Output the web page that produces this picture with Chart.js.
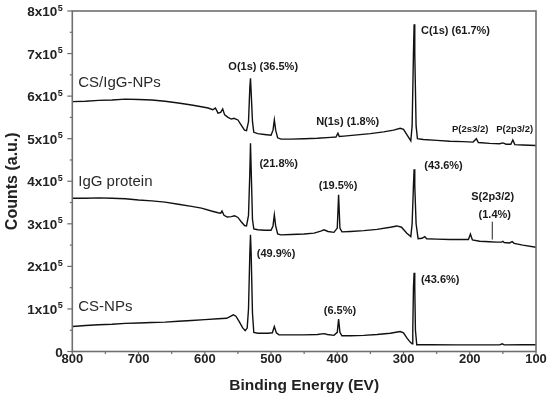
<!DOCTYPE html>
<html>
<head>
<meta charset="utf-8">
<script src="https://cdn.jsdelivr.net/npm/chart.js@4/dist/chart.umd.min.js"></script>
<style>
  html, body { margin: 0; padding: 0; background: #ffffff; }
  #wrap { width: 550px; height: 399px; }
</style>
</head>
<body>
<div id="wrap"><canvas id="c" width="550" height="399"></canvas></div>
<script>
// ---- Data (binding energy in eV, counts) ----
const seriesNames = ['CS/IgG-NPs', 'IgG protein', 'CS-NPs'];

const csIgGEnergy = [800,780,760,740,720,700,680,660,640,620,605,595,588,584,580,576,573,570,565,560,556,550,545,540,537,534,532,531,530,528,526,520,510,500,497,495,493,490,485,470,450,430,410,402,399,397,390,370,350,330,315,305,300,294,289,287,285,284,283,281,279,270,250,230,210,195,190,187,170,155,150,145,138,135,132,120,100];
const csIgGCounts = [587000,588000,590000,591000,593000,592000,591000,588000,584000,579000,575000,572000,568000,572000,560000,562000,570000,556000,550000,546000,548000,544000,532000,520000,519000,540000,620000,642000,610000,540000,515000,512000,510000,508000,520000,544000,520000,502000,499000,499000,500000,501000,503000,504000,513000,505000,506000,509000,512000,516000,520000,524500,522000,507000,495000,530000,700000,769000,700000,530000,500000,498000,496000,494000,493000,492000,500000,491000,489000,488000,490000,487000,487000,497000,486000,485000,484000];

const iggEnergy = [800,780,760,740,720,700,680,660,640,620,605,590,580,576,574,571,566,560,555,550,545,540,537,534,532,531,530,528,526,520,510,500,497,495,493,490,485,470,450,435,425,420,414,405,400,398,396,393,380,360,340,320,310,303,295,289,287,285,284,283,281,278,272,268,265,250,230,210,202,199,196,185,170,160,152,150,148,140,136,133,120,100];
const iggCounts = [360000,360000,361000,360000,359000,356000,354000,351000,346000,341000,337000,330000,326000,325000,330000,320000,316000,317000,319000,315000,305000,296000,295000,320000,420000,489000,430000,310000,288000,286000,285000,285000,295000,321000,295000,276000,274000,275000,276000,278000,283000,286000,282000,280000,290000,368000,290000,281000,282000,284000,287000,292000,295000,292000,278000,270000,300000,390000,428000,390000,300000,265000,266000,270000,265000,264000,263000,263000,263000,276000,262000,259000,258000,257000,257000,259000,256000,255000,258000,254000,250000,245000];

const csEnergy = [800,780,760,740,720,700,680,660,640,620,600,580,567,562,557,553,548,543,539,536,534,532,531,530,528,526,520,505,498,495,492,488,470,450,430,420,415,405,400,398,396,393,380,360,340,320,305,300,295,290,287,286,285,284,283,282,280,260,220,180,155,151,148,120,100];
const csCounts = [58700,61000,63000,64000,66000,67000,68000,69000,71000,73000,75000,77000,78000,82000,86000,83000,70000,56000,49000,55000,100000,230000,274000,230000,90000,45000,43000,43000,44000,58700,44000,39000,39000,39000,40000,42000,40000,38000,45000,76000,45000,37000,37000,38000,40000,43000,47000,44000,32000,22000,18000,50000,150000,185000,150000,50000,16000,15700,15500,15500,15500,18000,15500,15700,15700];

// ---- Axis ticks ----
const xTickValues = [800,700,600,500,400,300,200,100];
const yTickValues = [0,100000,200000,300000,400000,500000,600000,700000,800000];
const yTickMantissa = ['0','1x10','2x10','3x10','4x10','5x10','6x10','7x10','8x10'];
const yTickExponent = ['','5','5','5','5','5','5','5','5'];

// ---- Annotation texts (anchored at data coordinates) ----
const seriesLabelText = ['CS/IgG-NPs', 'IgG protein', 'CS-NPs'];
const seriesLabelEnergy = [791, 791, 791];
const seriesLabelCounts = [630000, 399000, 106000];

const peakLabelText = ['O(1s) (36.5%)','N(1s) (1.8%)','C(1s) (61.7%)','(21.8%)','(19.5%)','(43.6%)','S(2p3/2)','(1.4%)','(49.9%)','(6.5%)','(43.6%)'];
const peakLabelEnergy = [564.4, 431.9, 273.7, 517.5, 427.9, 268.7, 197.7, 186.7, 521.5, 420.4, 273.7];
const peakLabelCounts = [669000, 540000, 753000, 441000, 390000, 435000, 363000, 321000, 229000, 96000, 168000];

const smallLabelText = ['P(2s3/2)', 'P(2p3/2)'];
const smallLabelEnergy = [226.9, 160];
const smallLabelCounts = [522000, 522000];

const markerEnergy = 166;
const markerCounts = [305000, 263000];

// ---- Build chart ----
function toPoints(xs, ys) { return xs.map((x, i) => ({ x: x, y: ys[i] })); }

const FONT = '"Liberation Sans", Arial, Helvetica, sans-serif';
const AXIS_COLOR = '#6e6e6e';

const decorPlugin = {
  id: 'decor',
  afterDraw(chart) {
    const ctx = chart.ctx;
    const a = chart.chartArea;
    const xs = chart.scales.x, ys = chart.scales.y;
    ctx.save();
    // frame
    ctx.strokeStyle = AXIS_COLOR;
    ctx.lineWidth = 1.6;
    ctx.strokeRect(a.left, a.top, a.right - a.left, a.bottom - a.top);
    // x ticks
    ctx.lineWidth = 1.2;
    for (let e = 800; e >= 100; e -= 50) {
      const px = xs.getPixelForValue(e);
      const len = (e % 100 === 0) ? 4 : 2.5;
      ctx.beginPath(); ctx.moveTo(px, a.bottom); ctx.lineTo(px, a.bottom + len); ctx.stroke();
    }
    // y ticks
    for (let v = 0; v <= 800000; v += 50000) {
      const py = ys.getPixelForValue(v);
      const len = (v % 100000 === 0) ? 5 : 2.5;
      ctx.beginPath(); ctx.moveTo(a.left, py); ctx.lineTo(a.left - len, py); ctx.stroke();
    }
    // y tick labels with superscript exponent
    ctx.fillStyle = '#222';
    ctx.textBaseline = 'alphabetic';
    ctx.textAlign = 'right';
    const labelRight = a.left - 9.5;
    yTickValues.forEach((v, i) => {
      const py = ys.getPixelForValue(v);
      const base = py + 5;
      let right = labelRight;
      if (yTickExponent[i]) {
        ctx.font = 'bold 9px ' + FONT;
        ctx.fillText(yTickExponent[i], right, base - 5.5);
        right -= ctx.measureText(yTickExponent[i]).width + 0.5;
      }
      ctx.font = 'bold 13.5px ' + FONT;
      ctx.fillText(yTickMantissa[i], right, base);
    });
    // series labels
    ctx.fillStyle = '#2a2a2a';
    ctx.textBaseline = 'middle';
    ctx.textAlign = 'left';
    ctx.font = '15px ' + FONT;
    seriesLabelText.forEach((t, i) => {
      ctx.fillText(t, xs.getPixelForValue(seriesLabelEnergy[i]), ys.getPixelForValue(seriesLabelCounts[i]));
    });
    // peak labels
    ctx.fillStyle = '#1a1a1a';
    ctx.font = 'bold 11px ' + FONT;
    peakLabelText.forEach((t, i) => {
      ctx.fillText(t, xs.getPixelForValue(peakLabelEnergy[i]), ys.getPixelForValue(peakLabelCounts[i]));
    });
    ctx.font = 'bold 9.5px ' + FONT;
    smallLabelText.forEach((t, i) => {
      ctx.fillText(t, xs.getPixelForValue(smallLabelEnergy[i]), ys.getPixelForValue(smallLabelCounts[i]));
    });
    // S marker
    ctx.strokeStyle = '#222';
    ctx.lineWidth = 1;
    const mx = xs.getPixelForValue(markerEnergy);
    ctx.beginPath();
    ctx.moveTo(mx, ys.getPixelForValue(markerCounts[0]));
    ctx.lineTo(mx, ys.getPixelForValue(markerCounts[1]));
    ctx.stroke();
    ctx.restore();
  }
};

const lineStyle = { borderColor: '#111111', borderWidth: 1.4, pointRadius: 0, tension: 0, fill: false };

new Chart(document.getElementById('c'), {
  type: 'line',
  data: {
    datasets: [
      Object.assign({ label: seriesNames[0], data: toPoints(csIgGEnergy, csIgGCounts) }, lineStyle),
      Object.assign({ label: seriesNames[1], data: toPoints(iggEnergy, iggCounts) }, lineStyle),
      Object.assign({ label: seriesNames[2], data: toPoints(csEnergy, csCounts) }, lineStyle)
    ]
  },
  options: {
    responsive: false,
    animation: false,
    devicePixelRatio: 1,
    layout: { padding: { top: 11, right: 14, left: 0, bottom: 0 } },
    plugins: { legend: { display: false }, tooltip: { enabled: false } },
    scales: {
      x: {
        type: 'linear',
        reverse: true,
        min: 100, max: 800,
        afterFit: (s) => { s.height = 47.5; },
        afterBuildTicks: (s) => { s.ticks = xTickValues.map(v => ({ value: v })); },
        ticks: { color: '#222', padding: -7.5, font: { family: FONT, size: 13, weight: 'bold' }, maxRotation: 0 },
        grid: { display: false },
        border: { display: false },
        title: { display: true, text: 'Binding Energy (EV)', color: '#222', padding: { top: 0, bottom: 4 }, font: { family: FONT, size: 15.5, weight: 'bold' } }
      },
      y: {
        type: 'linear',
        min: 0, max: 800000,
        afterFit: (s) => { s.width = 72.3; },
        afterBuildTicks: (s) => { s.ticks = yTickValues.map(v => ({ value: v })); },
        ticks: { display: false },
        grid: { display: false },
        border: { display: false },
        title: { display: true, text: 'Counts (a.u.)', color: '#222', padding: { top: 3, bottom: 0 }, font: { family: FONT, size: 16, weight: 'bold' } }
      }
    }
  },
  plugins: [decorPlugin]
});
</script>
</body>
</html>
